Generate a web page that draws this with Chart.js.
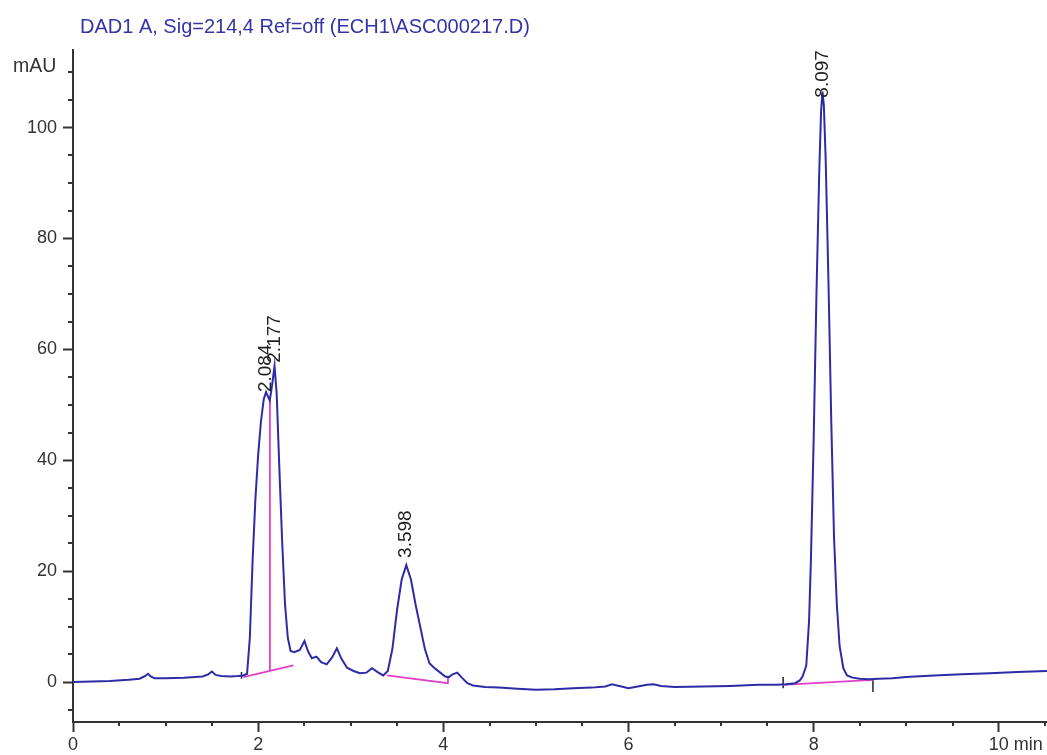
<!DOCTYPE html>
<html>
<head>
<meta charset="utf-8">
<script src="https://cdn.jsdelivr.net/npm/chart.js@4/dist/chart.umd.min.js"></script>
<style>
html,body{margin:0;padding:0;background:#fff;}
#wrap{width:1047px;height:755px;}
</style>
</head>
<body>
<div id="wrap"><canvas id="c" width="1047" height="755"></canvas></div>
<script>
// ---- data ----
const titleText = "DAD1 A, Sig=214,4 Ref=off (ECH1\\ASC000217.D)";
const yUnit = "mAU";
const xUnit = "min";

const times = [0, 0.2, 0.4, 0.6, 0.72, 0.78, 0.81, 0.84, 0.88, 1.0, 1.2, 1.4, 1.46, 1.5, 1.54, 1.6, 1.7, 1.78, 1.84,
  1.88, 1.91, 1.94, 1.97, 2.0, 2.03, 2.06, 2.085, 2.125, 2.15, 2.177, 2.2, 2.23, 2.26, 2.29, 2.32, 2.35, 2.39,
  2.45, 2.5, 2.54, 2.58, 2.63, 2.68, 2.74, 2.8, 2.85, 2.9, 2.96, 3.03, 3.1, 3.17, 3.23, 3.29, 3.35, 3.4,
  3.45, 3.5, 3.55, 3.6, 3.65, 3.7, 3.75, 3.8, 3.85, 3.9, 3.96, 4.02, 4.06, 4.1, 4.15, 4.2, 4.26, 4.32,
  4.45, 4.6, 4.8, 5.0, 5.2, 5.4, 5.6, 5.75, 5.82, 5.9, 6.0, 6.1, 6.2, 6.27, 6.35, 6.5, 6.8, 7.1, 7.4, 7.6,
  7.7, 7.8, 7.85, 7.88, 7.92, 7.95, 7.97, 8.0, 8.03, 8.06, 8.08, 8.095, 8.11, 8.13, 8.16, 8.19, 8.22, 8.25,
  8.28, 8.32, 8.36, 8.42, 8.5, 8.6, 8.7, 8.85, 9.0, 9.3, 9.6, 9.9, 10.2, 10.52];
const signal = [0.0, 0.1, 0.2, 0.4, 0.6, 1.1, 1.5, 1.0, 0.7, 0.7, 0.8, 1.0, 1.4, 1.9, 1.3, 1.1, 1.0, 1.1, 1.2,
  1.5, 8, 22, 33, 41, 47, 51, 52.3, 50.8, 53.5, 57.0, 52, 38, 25, 14, 8, 5.6, 5.4,
  5.8, 7.4, 5.5, 4.3, 4.6, 3.6, 3.2, 4.5, 6.1, 4.2, 2.6, 2.0, 1.6, 1.7, 2.5, 1.8, 1.2, 2.0,
  6, 13, 18.5, 21.1, 18.5, 14, 10, 6, 3.4, 2.6, 1.8, 1.0, 0.9, 1.4, 1.7, 0.8, -0.2, -0.6,
  -0.9, -1.0, -1.2, -1.4, -1.3, -1.1, -1.0, -0.8, -0.4, -0.7, -1.1, -0.8, -0.5, -0.4, -0.7, -0.9, -0.8, -0.7, -0.5, -0.5,
  -0.4, -0.2, 0.3, 1.0, 3, 11, 22, 44, 70, 92, 103, 106.5, 104, 94, 72, 47, 26, 14,
  6.5, 2.5, 1.2, 0.8, 0.6, 0.5, 0.6, 0.7, 0.9, 1.2, 1.4, 1.6, 1.8, 2.0];

// integration baselines and drop line (pink)
const base1T = [1.84, 2.38], base1V = [0.9, 3.0];
const dropT = [2.127, 2.127], dropV = [2.0, 51.0];
const base2T = [3.39, 4.05, 4.05], base2V = [1.2, -0.2, 0.9];
const base3T = [7.67, 8.64], base3V = [-0.5, 0.4];
// small event marks (dark)
const mark1T = [1.82, 1.82], mark1V = [1.8, 0.6];
const mark2T = [7.67, 7.67], mark2V = [0.9, -1.1];
const mark3T = [8.64, 8.64], mark3V = [0.5, -1.8];

// peak labels: retention time, height (mAU) where the label starts, text
const peakTimes = [2.084, 2.177, 3.598, 8.097];
const peakLabelAt = [52.3, 57.6, 22.4, 105.4];
const peakLabels = ["2.084", "2.177", "3.598", "8.097"];

// axes
const xMajorTicks = [0, 2, 4, 6, 8, 10];
const xMinorTicks = [0.5, 1, 1.5, 2.5, 3, 3.5, 4.5, 5, 5.5, 6.5, 7, 7.5, 8.5, 9, 9.5, 10.5];
const yMajorTicks = [0, 20, 40, 60, 80, 100];
const yMinorTicks = [-5, 5, 10, 15, 25, 30, 35, 45, 50, 55, 65, 70, 75, 85, 90, 95, 105, 110];

// ---- chart ----
const FONT = "'Liberation Sans', Arial, Helvetica, sans-serif";
const AX = '#333333';
const BLUE = '#2c2ca6';
const PINK = '#e040c8';

function pts(t, v) { return t.map((x, i) => ({x: x, y: v[i]})); }
function seg(t, v, color, w) {
  return {data: pts(t, v), borderColor: color, borderWidth: w, pointRadius: 0, fill: false, tension: 0};
}

const annot = {
  id: 'annot',
  afterDraw(chart) {
    const ctx = chart.ctx, xs = chart.scales.x, ys = chart.scales.y;
    ctx.save();
    // minor ticks
    ctx.strokeStyle = AX; ctx.lineWidth = 2;
    ctx.beginPath();
    yMinorTicks.forEach(v => { const p = Math.round(ys.getPixelForValue(v)); ctx.moveTo(ys.right - 5, p); ctx.lineTo(ys.right, p); });
    xMinorTicks.forEach(v => { const p = Math.round(xs.getPixelForValue(v)); ctx.moveTo(p, xs.top); ctx.lineTo(p, xs.top + 4); });
    ctx.stroke();
    // title
    ctx.fillStyle = '#3434a8';
    ctx.font = '20px ' + FONT;
    ctx.textAlign = 'left'; ctx.textBaseline = 'alphabetic';
    ctx.fillText(titleText, 80, 33);
    // unit labels
    ctx.fillStyle = AX;
    ctx.font = '19.5px ' + FONT;
    ctx.fillText(yUnit, 13, 72);
    ctx.font = '18px ' + FONT;
    const p10 = xs.getPixelForValue(10);
    const w10 = ctx.measureText('10').width;
    ctx.textBaseline = 'top';
    ctx.fillText(xUnit, p10 + w10 / 2 + 5, xs.top + 14);
    // peak labels (rotated)
    ctx.fillStyle = '#222';
    ctx.font = '19px ' + FONT;
    peakTimes.forEach((t, i) => {
      const px = xs.getPixelForValue(t), py = ys.getPixelForValue(peakLabelAt[i]);
      ctx.save();
      ctx.translate(px, py);
      ctx.rotate(-Math.PI / 2);
      ctx.textAlign = 'left'; ctx.textBaseline = 'middle';
      ctx.fillText(peakLabels[i], 0, 0);
      ctx.restore();
    });
    ctx.restore();
  }
};

new Chart(document.getElementById('c'), {
  type: 'line',
  data: {
    datasets: [
      seg(times, signal, BLUE, 2),
      seg(base1T, base1V, PINK, 1.8),
      seg(dropT, dropV, PINK, 1.8),
      seg(base2T, base2V, PINK, 1.8),
      seg(base3T, base3V, PINK, 1.8),
      seg(mark1T, mark1V, '#222244', 1.5),
      seg(mark2T, mark2V, '#222244', 1.5),
      seg(mark3T, mark3V, '#222244', 1.5)
    ]
  },
  options: {
    responsive: false,
    animation: false,
    devicePixelRatio: 1,
    layout: {padding: {top: 50, left: 0, right: 0, bottom: 0}},
    plugins: {legend: {display: false}, tooltip: {enabled: false}, title: {display: false}},
    scales: {
      x: {
        type: 'linear', min: 0, max: 10.52, position: 'bottom',
        border: {display: true, color: AX, width: 2},
        grid: {drawOnChartArea: false, drawTicks: true, tickLength: 10, tickWidth: 2, tickColor: AX},
        ticks: {font: {size: 18, family: FONT}, color: AX, padding: 2, maxRotation: 0, autoSkip: false,
                callback: v => String(v)},
        afterBuildTicks: s => { s.ticks = xMajorTicks.map(v => ({value: v})); },
        afterFit: s => { s.height = 33; }
      },
      y: {
        type: 'linear', min: -7.2, max: 114, position: 'left',
        border: {display: true, color: AX, width: 2},
        grid: {drawOnChartArea: false, drawTicks: true, tickLength: 10, tickWidth: 2, tickColor: AX},
        ticks: {font: {size: 18, family: FONT}, color: AX, padding: 6, autoSkip: false,
                callback: v => String(v)},
        afterBuildTicks: s => { s.ticks = yMajorTicks.map(v => ({value: v})); },
        afterFit: s => { s.width = 73; }
      }
    }
  },
  plugins: [annot]
});
</script>
</body>
</html>
